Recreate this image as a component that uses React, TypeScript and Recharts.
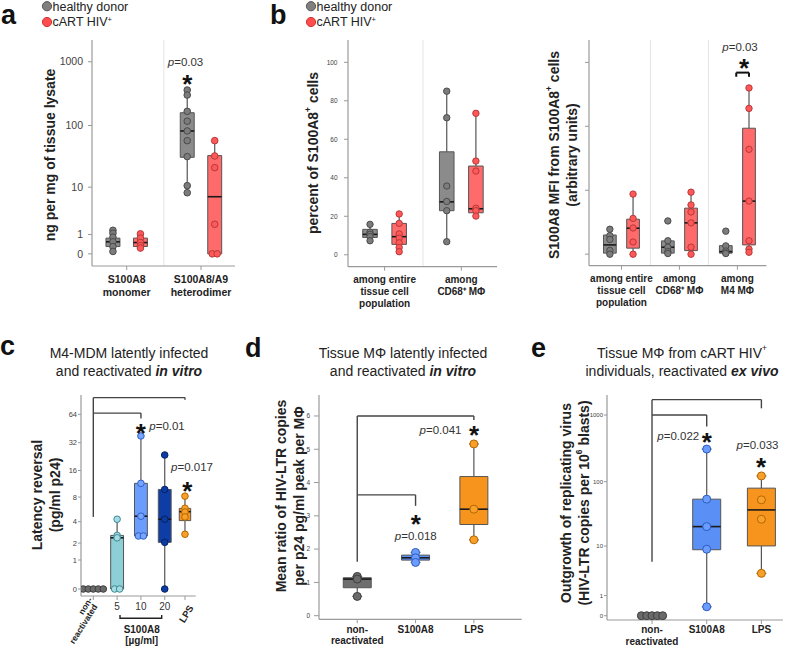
import { ComposedChart, XAxis, YAxis, Scatter, ReferenceArea, ReferenceLine } from 'recharts'

const FONT = '"Liberation Sans", Arial, Helvetica, sans-serif'
const AXIS = '#9a9a9a'

// axis transforms (the figure uses log(1+x) style axes)
const log10p = (v: number) => Math.log10(1 + v)
const log2p = (v: number) => Math.log2(1 + v)
const linear = (v: number) => v

type Colors = { fill: string; dot: string; edge: string }
const GRAY: Colors = { fill: '#8b8b8b', dot: '#7c7c7c', edge: '#4a4a4a' }
const RED: Colors = { fill: '#ff6a6a', dot: '#ff5858', edge: '#b43a3a' }
const DARKGRAY: Colors = { fill: '#6e6e6e', dot: '#6a6a6a', edge: '#3d3d3d' }
const TEAL: Colors = { fill: '#8ccfd6', dot: '#a4dce3', edge: '#3e8a94' }
const LIGHTBLUE: Colors = { fill: '#6b9dff', dot: '#78a6ff', edge: '#2e5fc4' }
const NAVY: Colors = { fill: '#0e3da6', dot: '#0c3ba4', edge: '#06225f' }
const BLUE: Colors = { fill: '#5a8ff6', dot: '#6b9cff', edge: '#2c5cbf' }
const ORANGE: Colors = { fill: '#f7941d', dot: '#f9a02a', edge: '#b26700' }

// ---------- panel a : ng per mg of tissue lysate ----------
const aGroups = ['S100A8|monomer', 'S100A8/A9|heterodimer']
// [min, q1, median, q3, max]
const aHealthyStats = [[0.09, 0.3, 0.54, 0.76, 1.33], [8, 31.2, 82, 159, 361]]
const aHealthyPts = [[1.33, 1.1, 0.82, 0.54, 0.3, 0.09], [361, 301, 167, 117, 82, 57.6, 32, 10.6, 8]]
const aHivStats = [[0.23, 0.3, 0.5, 0.76, 1.05], [0, 0, 6.8, 33.2, 57.6]]
const aHivPts = [[1.05, 0.76, 0.5, 0.34, 0.23], [57.6, 32.8, 21.2, 1.9, 0, 0]]
const aYTicks = [0, 1, 10, 100, 1000]

// ---------- panel b (left) : percent of S100A8+ cells ----------
const bGroups = ['among entire|tissue cell|population', 'among|CD68⁺ MΦ']
const bHealthyStats = [[7.3, 9.0, 10.6, 13.2, 15.8], [6.8, 22.9, 27.5, 53.5, 85]]
const bHealthyPts = [[15.8, 11.7, 10.6, 9.4, 7.3], [85, 71.2, 35.7, 27.7, 22.9, 6.8]]
const bHivStats = [[1.6, 5.4, 9.4, 16.3, 21.2], [20.1, 21.8, 23.9, 46.1, 73.5]]
const bHivPts = [[21.2, 16.3, 10.8, 8.6, 6.2, 3.8, 1.6], [73.5, 48.7, 43.5, 24.2, 22.9, 20.1]]
const bYTicks = [0, 20, 40, 60, 80, 100]

// ---------- panel b (right) : S100A8 MFI, arbitrary units ----------
const brGroups = ['among entire|tissue cell|population', 'among|CD68⁺ MΦ', 'among|M4 MΦ']
const brHealthyStats = [[0, 0.016, 0.145, 0.3, 0.39], [0, 0.016, 0.109, 0.208, 0.208], [0, 0.016, 0.04, 0.134, 0.134]]
const brHealthyPts = [[0.39, 0.29, 0.23, 0.06, 0], [0.52, 0.21, 0.11, 0.04, 0.01], [0.36, 0.13, 0.05, 0.02, 0.01]]
const brHivStats = [[0, 0.094, 0.406, 0.547, 0.94], [0, 0.056, 0.49, 0.72, 0.97], [0.03, 0.145, 0.83, 1.97, 2.6]]
const brHivPts = [[0.94, 0.56, 0.41, 0.19, 0], [0.97, 0.77, 0.66, 0.49, 0.11, 0], [2.6, 2.28, 1.64, 0.83, 0.21, 0.08, 0.03]]
const brYTicks = [0, 1, 2, 3]

// ---------- panel c : latency reversal (pg/ml p24) ----------
const cCats = ['non-|reactivated', '5', '10', '20', 'LPS']
const cX = [0, 1, 2, 3, 3.85]
const cStats = [[0, 0, 0, 0, 0], [0, 0, 2.4, 2.6, 4.3], [2.55, 2.55, 4.7, 11.5, 37.8], [0, 2.05, 4.3, 9.8, 23.6], [2.7, 4.13, 5.35, 5.87, 8.2]]
const cPts = [[0, 0, 0, 0, 0], [4.3, 2.6, 2.4, 0, 0], [37.8, 11.5, 4.7, 2.55, 2.55], [23.6, 9.8, 4.3, 2.05, 0], [8.2, 5.9, 5.3, 4.6, 2.7]]
const cYTicks = [0, 1, 2, 4, 8, 16, 32, 64]

// ---------- panel d : mean ratio HIV-LTR / p24 ----------
const dCats = ['non-|reactivated', 'S100A8', 'LPS']
const dStats = [[0.58, 0.84, 1.1, 1.14, 1.18], [1.6, 1.67, 1.74, 1.82, 1.9], [2.28, 2.74, 3.2, 4.18, 5.16]]
const dPts = [[1.18, 1.1, 0.58], [1.9, 1.74, 1.6], [5.16, 3.2, 2.28]]
const dYTicks = [0, 1, 2, 3, 4, 5, 6]

// ---------- panel e : outgrowth of replicating virus ----------
const eCats = ['non-|reactivated', 'S100A8', 'LPS']
const eStats = [[0, 0, 0, 0, 0], [0.36, 8.7, 20.5, 54.3, 309], [3.3, 10.05, 37.2, 79.8, 122]]
const ePts = [[0, 0, 0, 0, 0], [309, 54.3, 20.5, 8.86, 0.36], [122, 53, 26.7, 3.3]]
const eYTicks = [0, 1, 10, 100, 1000]

// significance brackets: left leg from y1 up to y, across, right leg down to y2
type Bracket = { x1: number; x2: number; y: number; y1: number; y2: number }
const cBrackets: Bracket[] = [
  { x1: 0, x2: 3.85, y: 96, y1: 4.6, y2: 91 },
  { x1: 0, x2: 2, y: 66, y1: 66, y2: 58 },
]
const dBrackets: Bracket[] = [
  { x1: 0, x2: 2, y: 6, y1: 1.62, y2: 5.88 },
  { x1: 0, x2: 1, y: 3.63, y1: 3.63, y2: 3.3 },
]
const eBrackets: Bracket[] = [
  { x1: 0, x2: 2, y: 1700, y1: 5.4, y2: 1260 },
  { x1: 0, x2: 1, y: 1000, y1: 1000, y2: 675 },
]
const brBrackets: Bracket[] = [{ x1: 1.98, x2: 2.2, y: 2.84, y1: 2.775, y2: 2.775 }]

type Box = Colors & { x: number; half: number; stats: number[]; pts: number[] }

function pairBoxes(hs: number[][], hp: number[][], vs: number[][], vp: number[][], offset: number, half: number): Box[] {
  const out: Box[] = []
  hs.forEach((_, g) => {
    out.push({ x: g - offset, half, stats: hs[g], pts: hp[g], ...GRAY })
    out.push({ x: g + offset, half, stats: vs[g], pts: vp[g], ...RED })
  })
  return out
}

function nearest(xs: number[], v: number) {
  let best = 0
  xs.forEach((x, i) => {
    if (Math.abs(x - v) < Math.abs(xs[best] - v)) best = i
  })
  return best
}

function stackedTick(xs: number[], labels: string[], size: number, dy0: number, gap: number) {
  return (p: any) => {
    const lines = labels[nearest(xs, p.payload.value)].split('|')
    return (
      <text x={p.x} y={p.y} textAnchor="middle" fontSize={size} fontWeight="bold" fill="#222" fontFamily={FONT}>
        {lines.map((l, k) => (
          <tspan key={k} x={p.x} dy={k === 0 ? dy0 : gap}>{l}</tspan>
        ))}
      </text>
    )
  }
}

// panel c: numbers upright, the rest slanted
const cTick = (p: any) => {
  const i = nearest(cX, p.payload.value)
  const lab = cCats[i]
  const common = { fontFamily: FONT, fill: '#222', dominantBaseline: 'central' as const }
  if (i >= 1 && i <= 3) {
    return (
      <text x={p.x} y={p.y + 5} textAnchor="middle" fontSize={10} {...common} fill="#333">
        {lab}
      </text>
    )
  }
  if (i === 4) {
    return (
      <text transform={`translate(${p.x + 6},${p.y + 4}) rotate(-58)`} textAnchor="end" fontSize={9.5} fontWeight="bold" {...common}>
        {lab}
      </text>
    )
  }
  const [l1, l2] = lab.split('|')
  return (
    <g>
      <text transform={`translate(${p.x - 3},${p.y - 4}) rotate(-58)`} textAnchor="end" fontSize={8.5} fontWeight="bold" {...common}>
        {l1}
      </text>
      <text transform={`translate(${p.x + 2},${p.y + 3}) rotate(-58)`} textAnchor="end" fontSize={8.5} fontWeight="bold" {...common}>
        {l2}
      </text>
    </g>
  )
}

type PanelProps = {
  left: number
  top: number
  w: number
  h: number
  xDomain: [number, number]
  yDomain: [number, number]
  tf: (v: number) => number
  yTicks: number[]
  yLabels: string[]
  yFont: number
  yTickSize: number
  yTickGap: number
  xTicks: number[]
  xTick: (p: any) => any
  boxes: Box[]
  dividers?: number[]
  brackets?: Bracket[]
  bracketColor?: string
  bracketWidth?: number
  r: number
  spread: number
}

function BoxPanel(p: PanelProps) {
  const { tf } = p
  const els: any[] = []

  ;(p.dividers ?? []).forEach((d, i) => {
    els.push(<ReferenceLine key={`div${i}`} x={d} stroke="#e4e4e4" strokeWidth={1} />)
  })

  p.boxes.forEach((b, i) => {
    const [mn, q1, md, q3, mx] = b.stats
    const cap = b.half * 0.35
    if (mx > q3) {
      els.push(<ReferenceLine key={`wu${i}`} segment={[{ x: b.x, y: tf(q3) }, { x: b.x, y: tf(mx) }]} stroke="#555" strokeWidth={1.2} />)
      els.push(<ReferenceLine key={`cu${i}`} segment={[{ x: b.x - cap, y: tf(mx) }, { x: b.x + cap, y: tf(mx) }]} stroke="#555" strokeWidth={1.2} />)
    }
    if (mn < q1) {
      els.push(<ReferenceLine key={`wl${i}`} segment={[{ x: b.x, y: tf(mn) }, { x: b.x, y: tf(q1) }]} stroke="#555" strokeWidth={1.2} />)
      els.push(<ReferenceLine key={`cl${i}`} segment={[{ x: b.x - cap, y: tf(mn) }, { x: b.x + cap, y: tf(mn) }]} stroke="#555" strokeWidth={1.2} />)
    }
    if (mx > mn) {
      els.push(
        <ReferenceArea key={`box${i}`} x1={b.x - b.half} x2={b.x + b.half} y1={tf(q1)} y2={tf(q3)} fill={b.fill} fillOpacity={1} stroke="#555" strokeWidth={1} />,
      )
      els.push(<ReferenceLine key={`md${i}`} segment={[{ x: b.x - b.half, y: tf(md) }, { x: b.x + b.half, y: tf(md) }]} stroke="#1a1a1a" strokeWidth={1.6} />)
    }
  })

  ;(p.brackets ?? []).forEach((k, i) => {
    const st = { stroke: p.bracketColor ?? '#444', strokeWidth: p.bracketWidth ?? 1.4 }
    els.push(<ReferenceLine key={`bl${i}`} segment={[{ x: k.x1, y: tf(k.y1) }, { x: k.x1, y: tf(k.y) }]} {...st} />)
    els.push(<ReferenceLine key={`bh${i}`} segment={[{ x: k.x1, y: tf(k.y) }, { x: k.x2, y: tf(k.y) }]} {...st} />)
    els.push(<ReferenceLine key={`br${i}`} segment={[{ x: k.x2, y: tf(k.y) }, { x: k.x2, y: tf(k.y2) }]} {...st} />)
  })

  p.boxes.forEach((b, i) => {
    const counts: Record<string, number> = {}
    const seen: Record<string, number> = {}
    b.pts.forEach((v) => (counts[v] = (counts[v] ?? 0) + 1))
    const data = b.pts.map((v) => {
      const k = seen[v] ?? 0
      seen[v] = k + 1
      return { x: b.x + (k - (counts[v] - 1) / 2) * p.spread, y: tf(v) }
    })
    els.push(
      <Scatter
        key={`pts${i}`}
        data={data}
        isAnimationActive={false}
        shape={(s: any) => <circle cx={s.cx} cy={s.cy} r={p.r} fill={b.dot} stroke={b.edge} strokeWidth={1} />}
      />,
    )
  })

  return (
    <div style={{ position: 'absolute', left: p.left - 50, top: p.top - 10 }}>
      <ComposedChart width={p.w + 60} height={p.h + 60} margin={{ top: 10, right: 10, bottom: 0, left: 0 }}>
        <XAxis
          type="number"
          dataKey="x"
          domain={p.xDomain}
          allowDataOverflow
          ticks={p.xTicks}
          interval={0}
          height={50}
          tickSize={4}
          axisLine={{ stroke: AXIS, strokeWidth: 1.2 }}
          tickLine={{ stroke: AXIS }}
          tick={p.xTick}
        />
        <YAxis
          type="number"
          dataKey="y"
          domain={p.yDomain}
          allowDataOverflow
          ticks={p.yTicks.map(tf)}
          interval={0}
          width={50}
          tickSize={p.yTickSize}
          tickMargin={p.yTickGap}
          axisLine={{ stroke: AXIS, strokeWidth: 1.2 }}
          tickLine={{ stroke: AXIS }}
          tick={{ fontSize: p.yFont, fill: '#444', fontFamily: FONT }}
          tickFormatter={(_v: number, i: number) => p.yLabels[i]}
        />
        {els}
      </ComposedChart>
    </div>
  )
}

const Sup = ({ t }: { t: string }) => (
  <tspan baselineShift="super" fontSize="60%">{t}</tspan>
)

function T({ x, y, size, bold, italic, anchor = 'middle', children, fill = '#222', rot }: any) {
  return (
    <text
      transform={`translate(${x},${y})${rot ? ` rotate(${rot})` : ''}`}
      textAnchor={anchor}
      dominantBaseline="central"
      fontSize={size}
      fontWeight={bold ? 'bold' : 'normal'}
      fontStyle={italic ? 'italic' : 'normal'}
      fill={fill}
      fontFamily={FONT}
    >
      {children}
    </text>
  )
}

const Star = ({ x, y }: { x: number; y: number }) => (
  <T x={x} y={y + 5} size={26} bold fill="#111">*</T>
)

const PVal = ({ x, y, v }: { x: number; y: number; v: string }) => (
  <T x={x} y={y} size={11.5} fill="#333">
    <tspan fontStyle="italic">p</tspan>={v}
  </T>
)

function Legend({ x }: { x: number }) {
  return (
    <g>
      <circle cx={x} cy={6.2} r={4.6} fill="#808080" stroke="#555" strokeWidth={1} />
      <circle cx={x} cy={22} r={4.6} fill="#ff4d4d" stroke="#c33" strokeWidth={1} />
      <text x={x + 5.5} y={10.6} fontSize={12.5} fontFamily={FONT} fill="#222">healthy donor</text>
      <text x={x + 5.5} y={26.4} fontSize={12.5} fontFamily={FONT} fill="#222">
        cART HIV<Sup t="+" />
      </text>
    </g>
  )
}

function Overlay() {
  const letter = { fontSize: 27, fontWeight: 'bold' as const, fontFamily: FONT, fill: '#111' }
  return (
    <svg width={798} height={646} style={{ position: 'absolute', left: 0, top: 0, pointerEvents: 'none' }}>
      <text x={1} y={24.4} {...letter}>a</text>
      <text x={270} y={24.4} {...letter}>b</text>
      <text x={0} y={355} {...letter}>c</text>
      <text x={245} y={356.5} {...letter}>d</text>
      <text x={531} y={356.5} {...letter}>e</text>

      <Legend x={47} />
      <Legend x={311} />

      {/* axis titles */}
      <T x={50} y={155} size={14} bold rot={-90}>ng per mg of tissue lysate</T>
      <T x={313} y={153} size={14} bold rot={-90}>
        percent of S100A8<Sup t="+" /> cells
      </T>
      <T x={554} y={155} size={14} bold rot={-90}>
        S100A8 MFI from S100A8<Sup t="+" /> cells
      </T>
      <T x={572} y={155} size={14} bold rot={-90}>(arbitrary units)</T>
      <T x={37} y={495} size={14} bold rot={-90}>Latency reversal</T>
      <T x={55} y={495} size={14} bold rot={-90}>(pg/ml p24)</T>
      <T x={281} y={496} size={14} bold rot={-90}>Mean ratio of HIV-LTR copies</T>
      <T x={299} y={496} size={14} bold rot={-90}>per p24 pg/ml peak per MΦ</T>
      <T x={566} y={503} size={14} bold rot={-90}>Outgrowth of replicating virus</T>
      <T x={584} y={503} size={14} bold rot={-90}>
        (HIV-LTR copies per 10<Sup t="6" /> blasts)
      </T>

      {/* panel titles */}
      <T x={129} y={353} size={14} fill="#222">M4-MDM latently infected</T>
      <T x={129} y={371} size={14} fill="#222">
        and reactivated <tspan fontWeight="bold" fontStyle="italic">in vitro</tspan>
      </T>
      <T x={403} y={353} size={14} fill="#222">Tissue MΦ latently infected</T>
      <T x={403} y={371} size={14} fill="#222">
        and reactivated <tspan fontWeight="bold" fontStyle="italic">in vitro</tspan>
      </T>
      <T x={682} y={353} size={14} fill="#222">
        Tissue MΦ from cART HIV<Sup t="+" />
      </T>
      <T x={682} y={371} size={14} fill="#222">
        individuals, reactivated <tspan fontWeight="bold" fontStyle="italic">ex vivo</tspan>
      </T>

      {/* significance */}
      <PVal x={185.5} y={62} v="0.03" />
      <Star x={187.3} y={79} />
      <PVal x={740} y={47} v="0.03" />
      <Star x={744} y={63} />
      <Star x={140.7} y={428} />
      <PVal x={167} y={426} v="0.01" />
      <PVal x={192} y={467} v="0.017" />
      <Star x={187.3} y={486} />
      <PVal x={440.5} y={430} v="0.041" />
      <Star x={474} y={430} />
      <Star x={415.7} y={519} />
      <PVal x={415.8} y={536} v="0.018" />
      <PVal x={678.3} y={436} v="0.022" />
      <Star x={706.7} y={436.7} />
      <PVal x={757.5} y={445} v="0.033" />
      <Star x={761} y={461.7} />

      {/* concentration bracket under panel c */}
      <path d="M120 615 V618.3 H161.7 V615" fill="none" stroke="#222" strokeWidth={1.4} />
      <T x={141.7} y={629} size={10} bold>S100A8</T>
      <T x={141.7} y={640.5} size={10} bold>[µg/ml]</T>
    </svg>
  )
}

export default function App() {
  const aBoxes = pairBoxes(aHealthyStats, aHealthyPts, aHivStats, aHivPts, 0.185, 0.094)
  const bBoxes = pairBoxes(bHealthyStats, bHealthyPts, bHivStats, bHivPts, 0.19, 0.095)
  const brBoxes = pairBoxes(brHealthyStats, brHealthyPts, brHivStats, brHivPts, 0.2, 0.11)
  const cColors = [DARKGRAY, TEAL, LIGHTBLUE, NAVY, ORANGE]
  const cBoxes: Box[] = cStats.map((s, i) => ({ x: cX[i], half: i === 4 ? 0.24 : 0.27, stats: s, pts: cPts[i], ...cColors[i] }))
  const dColors = [DARKGRAY, BLUE, ORANGE]
  const dBoxes: Box[] = dStats.map((s, i) => ({ x: i, half: 0.24, stats: s, pts: dPts[i], ...dColors[i] }))
  const eBoxes: Box[] = eStats.map((s, i) => ({ x: i, half: 0.256, stats: s, pts: ePts[i], ...dColors[i] }))

  return (
    <div style={{ position: 'absolute', left: 0, top: 0, width: 798, height: 646, background: '#fff', overflow: 'hidden' }}>
      <BoxPanel
        left={92} top={40} w={143} h={226}
        xDomain={[-0.467, 1.458]} yDomain={[-0.19, 3.34]} tf={log10p}
        yTicks={aYTicks} yLabels={aYTicks.map(String)} yFont={10.5} yTickSize={4} yTickGap={5}
        xTicks={[0, 1]} xTick={stackedTick([0, 1], aGroups, 10.5, 11, 13)}
        boxes={aBoxes} dividers={[0.5]} r={3.3} spread={0.067}
      />
      <BoxPanel
        left={347.7} top={40} w={149} h={226.7}
        xDomain={[-0.477, 1.465]} yDomain={[-6.2, 111.6]} tf={linear}
        yTicks={bYTicks} yLabels={bYTicks.map(String)} yFont={6.5} yTickSize={4} yTickGap={6.5}
        xTicks={[0, 1]} xTick={stackedTick([0, 1], bGroups, 10, 10, 12)}
        boxes={bBoxes} dividers={[0.5]} r={3.2} spread={0.07}
      />
      <BoxPanel
        left={589.3} top={40} w={177.4} h={225.7}
        xDomain={[-0.56, 2.5]} yDomain={[-0.18, 3.35]} tf={linear}
        yTicks={brYTicks} yLabels={brYTicks.map(() => '')} yFont={6.5} yTickSize={4} yTickGap={4}
        xTicks={[0, 1, 2]} xTick={stackedTick([0, 1, 2], brGroups, 10, 10, 12)}
        boxes={brBoxes} dividers={[0.5, 1.5]} brackets={brBrackets} bracketColor="#111" bracketWidth={2}
        r={3.2} spread={0.07}
      />
      <BoxPanel
        left={81} top={395} w={114.7} h={201}
        xDomain={[-0.517, 4.3]} yDomain={[-0.241, 6.69]} tf={log2p}
        yTicks={cYTicks} yLabels={cYTicks.map(String)} yFont={7.5} yTickSize={3} yTickGap={1}
        xTicks={cX} xTick={cTick}
        boxes={cBoxes} brackets={cBrackets} r={3.3} spread={0.21}
      />
      <BoxPanel
        left={319} top={395} w={202.7} h={224.3}
        xDomain={[-0.656, 2.82]} yDomain={[-0.108, 6.63]} tf={linear}
        yTicks={dYTicks} yLabels={dYTicks.map(String)} yFont={6.5} yTickSize={5} yTickGap={4}
        xTicks={[0, 1, 2]} xTick={stackedTick([0, 1, 2], dCats, 10, 7.5, 11.5)}
        boxes={dBoxes} brackets={dBrackets} r={4} spread={0.1}
      />
      <BoxPanel
        left={607.3} top={395} w={176} h={225}
        xDomain={[-0.823, 2.395]} yDomain={[-0.064, 3.3]} tf={log10p}
        yTicks={eYTicks} yLabels={eYTicks.map(String)} yFont={6} yTickSize={3} yTickGap={1}
        xTicks={[0, 1, 2]} xTick={stackedTick([0, 1, 2], eCats, 10, 7, 11.5)}
        boxes={eBoxes} brackets={eBrackets} r={4} spread={0.097}
      />
      <Overlay />
    </div>
  )
}
